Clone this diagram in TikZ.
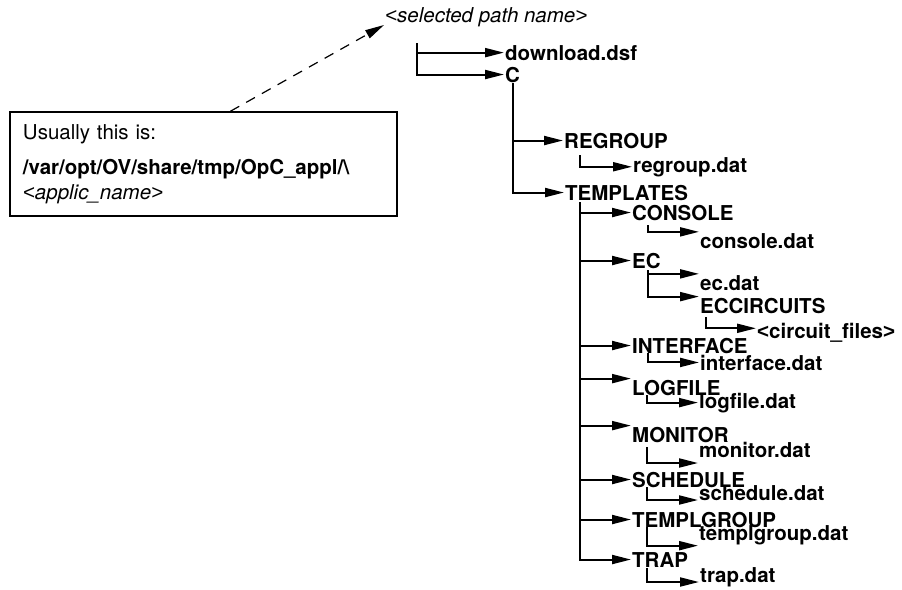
\documentclass[tikz,border=0pt]{standalone}
\usepackage{fontspec}
\setmainfont{TeX Gyre Heros}
\newfontfamily\bracketfont{Liberation Sans}
\usetikzlibrary{arrows.meta}

\newcommand{\labelsize}{\fontsize{20.5}{25}\selectfont}
\newcommand{\lt}{{\bracketfont <}}
\newcommand{\gt}{{\bracketfont >}}
\tikzset{
  arr/.style={-{Triangle[length=19pt,width=9pt]}},
  branch/.style={arr,line width=2pt},
  pointer/.style={arr,line width=1.2pt,dash pattern=on 10pt off 8pt},
  item/.style={anchor=base west,inner sep=1pt,font=\labelsize\bfseries},
}

\begin{document}
\begin{tikzpicture}[x=1pt,y=-1pt]
\useasboundingbox (0,0) rectangle (902,589);
\node[item,font=\labelsize\itshape] (sel) at (384,23) {\lt selected path name\gt};
\node[font=\labelsize,draw,line width=2pt,anchor=north west,text width=361pt,inner xsep=12.7pt,inner ysep=8pt,minimum height=103.3pt,align=left] (note) at (9.3,111.2)
  {Usually this is:\\[10pt]\textbf{/var/opt/OV/share/tmp/OpC\_appl/\textbackslash}\\\textit{\lt applic\_name\gt}};
\draw[pointer] ([xshift=27pt]note.north) -- ([yshift=-2pt]sel.base west);

\node[item] (dl) at (504,60) {download.dsf};
\node[item] (C) at (504,82) {C};
\node[item] (regroup) at (563,148) {REGROUP};
\node[item] (regroupdat) at (632,172) {regroup.dat};
\node[item] (templates) at (564,200) {TEMPLATES};
\node[item] (console) at (631,220) {CONSOLE};
\node[item] (consoledat) at (699,248) {console.dat};
\node[item] (ec) at (631,268) {EC};
\node[item] (ecdat) at (699,290) {ec.dat};
\node[item] (eccircuits) at (699,313) {ECCIRCUITS};
\node[item] (circuitfiles) at (756,338) {\lt circuit\_files\gt};
\node[item] (interface) at (631,353) {INTERFACE};
\node[item] (interfacedat) at (699,370) {interface.dat};
\node[item] (logfile) at (631,395) {LOGFILE};
\node[item] (logfiledat) at (698,408) {logfile.dat};
\node[item] (monitor) at (631,442) {MONITOR};
\node[item] (monitordat) at (698,457) {monitor.dat};
\node[item] (schedule) at (631,487) {SCHEDULE};
\node[item] (scheduledat) at (698,500) {schedule.dat};
\node[item] (templgroup) at (631,527) {TEMPLGROUP};
\node[item] (templgroupdat) at (698,540) {templgroup.dat};
\node[item] (trap) at (631,567) {TRAP};
\node[item] (trapdat) at (699,582) {trap.dat};

\coordinate (root) at (417,43);
\draw[branch] (root) |- (dl.west);
\draw[branch] (root) |- (C.west);
\draw[branch] (C.south) |- (regroup.west);
\draw[branch] (C.south) |- (templates.west);
\coordinate (rg) at (580,155);
\draw[branch] (rg) |- (regroupdat.west);
\coordinate (tp) at (580,202);
\foreach \n in {console,ec,interface,schedule,templgroup,trap}
  \draw[branch] (tp) |- (\n.west);
\foreach \n in {logfile,monitor}
  \draw[branch] (tp) |- (\n.north west);
\coordinate (cs) at (648,225);
\draw[branch] (cs) |- (consoledat.north west);
\coordinate (e) at (648,270);
\draw[branch] (e) |- (ecdat.north west);
\draw[branch] (e) |- (eccircuits.north west);
\coordinate (ecc) at (706,317);
\draw[branch] (ecc) |- ([yshift=4pt]circuitfiles.west);
\coordinate (ifc) at (648,353);
\draw[branch] (ifc) |- (interfacedat.west);
\coordinate (lf) at (647,395);
\draw[branch] (lf) |- (logfiledat.west);
\coordinate (mn) at (647,447);
\draw[branch] (mn) |- ([yshift=-6pt]monitordat.base west);
\coordinate (sc) at (647,487);
\draw[branch] (sc) |- (scheduledat.base west);
\coordinate (tg) at (647,527);
\draw[branch] (tg) |- (templgroupdat.south west);
\coordinate (tr) at (647,568);
\draw[branch] (tr) |- (trapdat.base west);
\end{tikzpicture}
\end{document}
